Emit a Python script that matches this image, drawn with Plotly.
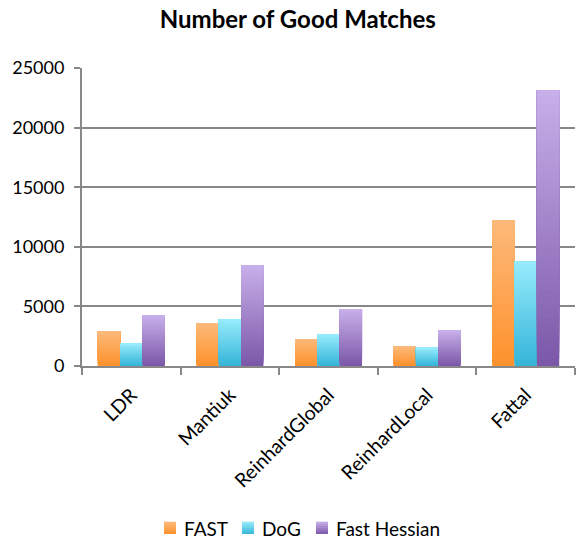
import plotly.graph_objects as go

categories = ["LDR", "Mantiuk", "ReinhardGlobal", "ReinhardLocal", "Fattal"]
fast = [2900, 3600, 2250, 1620, 12200]
dog = [1880, 3900, 2650, 1540, 8750]
fast_hessian = [4250, 8450, 4750, 2960, 23150]
series_names = ["FAST", "DoG", "Fast Hessian"]
y_ticks = [0, 5000, 10000, 15000, 20000, 25000]

series = [fast, dog, fast_hessian]
# (bottom colour, top colour)
grad = [((254, 145, 44), (253, 186, 122)),
        ((52, 180, 216), (151, 236, 252)),
        ((123, 87, 168), (200, 176, 234))]


def mix(c0, c1, t):
    return "rgb(%d,%d,%d)" % tuple(round(c0[j] + (c1[j] - c0[j]) * t) for j in range(3))


N = 40
fig = go.Figure()
for si, (name, vals) in enumerate(zip(series_names, series)):
    c0, c1 = grad[si]
    for k in range(N):
        t = (k + 0.5) / N
        fig.add_trace(go.Bar(
            x=categories,
            y=[v * (N - k) / N for v in vals],
            base=[v * k / N for v in vals],
            name=name,
            offsetgroup=name,
            showlegend=False,
            marker=dict(color=mix(c0, c1, t), line=dict(width=0)),
            hoverinfo="skip",
        ))

# plot area in pixels: x 82..575, y 68..366
L, R, T, B = 82, 575, 68, 366


def px(X):
    return (X - L) / (R - L)


def py(Y):
    return (B - Y) / (B - T)


font_family = "Lato, 'Open Sans', sans-serif"
shapes = []
annotations = []
legend_x = [164, 242, 316]
LEG_Y = 528
for si, name in enumerate(series_names):
    c0, c1 = grad[si]
    x0 = legend_x[si]
    M = 6
    for k in range(M):
        y_bot = LEG_Y + 6 - 12 * k / M
        y_top = LEG_Y + 6 - 12 * (k + 1) / M - 0.3
        shapes.append(dict(type="rect", xref="paper", yref="paper",
                           x0=px(x0), x1=px(x0 + 12), y0=py(y_bot), y1=py(y_top),
                           fillcolor=mix(c0, c1, (k + 0.5) / M), line=dict(width=0),
                           layer="above"))
    annotations.append(dict(text=name, xref="paper", yref="paper",
                            x=px(x0 + 18), y=py(LEG_Y), xanchor="left", yanchor="middle",
                            showarrow=False, font=dict(size=19, family=font_family, color="black")))

fig.update_layout(
    width=576, height=540,
    margin=dict(l=L, r=576 - R, t=T, b=540 - B),
    paper_bgcolor="white", plot_bgcolor="white",
    barmode="group", bargap=0.32, bargroupgap=0.0,
    font=dict(family=font_family, size=18, color="black"),
    title=dict(text="<b>Number of Good Matches</b>", x=0.517, xref="container",
               y=1 - 20 / 540, yref="container", xanchor="center", yanchor="middle",
               font=dict(size=24, family=font_family, color="black")),
    showlegend=False,
    shapes=shapes,
    annotations=annotations,
)
fig.update_xaxes(
    type="category", tickangle=-45, showgrid=False,
    showline=True, linecolor="#888888", linewidth=2,
    ticks="outside", tickson="boundaries", ticklen=7, tickcolor="#888888", tickwidth=2,
    tickfont=dict(size=19.5), ticklabelstandoff=8,
)
fig.update_yaxes(
    range=[0, 25000], tickvals=y_ticks, ticktext=[str(v) for v in y_ticks],
    showgrid=True, gridcolor="#888888", gridwidth=2,
    showline=True, linecolor="#888888", linewidth=2,
    ticks="outside", ticklen=6, tickcolor="#888888", tickwidth=2,
    tickfont=dict(size=18), zeroline=False, ticklabelstandoff=6,
)
fig.write_html("out.html")
